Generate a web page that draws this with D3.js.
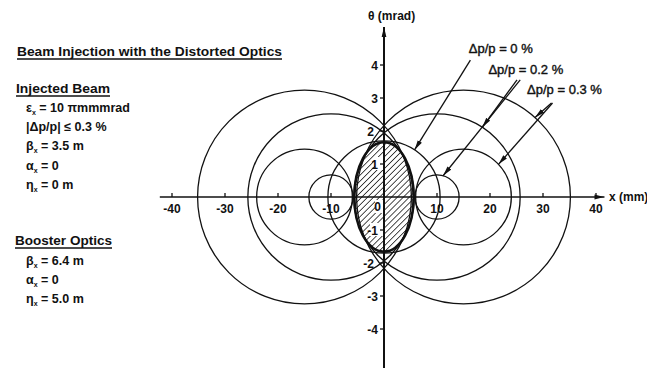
<!DOCTYPE html>
<html>
<head>
<meta charset="utf-8">
<script src="https://cdn.jsdelivr.net/npm/d3@7"></script>
<style>
  body { margin: 0; background: #fff; }
  svg { display: block; font-family: "Liberation Sans", Arial, sans-serif; }
</style>
</head>
<body>
<svg id="chart" width="647" height="368"></svg>
<script>
'use strict';

// ticks
const xTicks = [-40, -30, -20, -10, 10, 20, 30, 40];
const yTicks = [-4, -3, -2, -1, 1, 2, 3, 4];

// booster acceptance circles: centre (mm) and theta amplitude (mrad)
const circleCenter = [0, -10, 10, -10, 10, -15, 15, -15, 15];
const circleAmp = [1.70, 0.67, 0.67, 2.52, 2.52, 1.45, 1.45, 3.24, 3.24];

// injected beam ellipse half axes
const injHalfX = 5.6;      // mm
const injHalfTheta = 1.66; // mrad

// leader labels and arrows
const dpLabels = ["Δp/p = 0 %", "Δp/p = 0.2 %", "Δp/p = 0.3 %"];
const dpLabelX = [16.0, 19.7, 27.0];
const dpLabelY = [4.35, 3.73, 3.12];
// each arrow: start (mm, mrad), target circle index, angle on circle (deg)
const arrowStartX = [16.3, 25.1, 25.7, 31.6, 31.8];
const arrowStartY = [4.15, 3.55, 3.55, 2.85, 2.85];
const arrowCircle = [0, 4, 2, 8, 6];
const arrowAngle = [57, 57, 74, 48, 43];

const injectedLines = [
  ["ε", "x", " = 10 πmmmrad"],
  ["|Δp/p| ≤ 0.3 %", "", ""],
  ["β", "x", " = 3.5 m"],
  ["α", "x", " = 0"],
  ["η", "x", " = 0 m"]
];
const boosterLines = [
  ["β", "x", " = 6.4 m"],
  ["α", "x", " = 0"],
  ["η", "x", " = 5.0 m"]
];

const svg = d3.select("#chart");
const x = d3.scaleLinear().domain([-40, 40]).range([172, 596]);
const y = d3.scaleLinear().domain([-4, 4]).range([329, 65]);
const rPx = a => y(0) - y(a);

// defs: hatch + arrowheads
const defs = svg.append("defs");
const hatch = defs.append("pattern")
  .attr("id", "hatch")
  .attr("patternUnits", "userSpaceOnUse")
  .attr("width", 4.2).attr("height", 4.2)
  .attr("patternTransform", "rotate(45)");
hatch.append("line")
  .attr("x1", 0).attr("y1", 0).attr("x2", 0).attr("y2", 4.2)
  .attr("stroke", "#111").attr("stroke-width", 1.5);

defs.append("marker")
  .attr("id", "arrow")
  .attr("markerUnits", "userSpaceOnUse")
  .attr("viewBox", "0 -3 10 6")
  .attr("refX", 10).attr("refY", 0)
  .attr("markerWidth", 10).attr("markerHeight", 6)
  .attr("orient", "auto")
  .append("path")
  .attr("d", "M0,-2.4L10,0L0,2.4Z")
  .attr("fill", "#111");

// injected beam (hatched)
svg.append("ellipse")
  .attr("cx", x(0)).attr("cy", y(0))
  .attr("rx", x(injHalfX) - x(0))
  .attr("ry", y(0) - y(injHalfTheta))
  .attr("fill", "url(#hatch)");

// white boxes behind the labels sitting in the hatch
const inner = [1, 0, -1];
svg.selectAll("rect.lblbg")
  .data(inner)
  .join("rect")
  .attr("class", "lblbg")
  .attr("x", d => d < 0 ? x(0) - 14 : x(0) - 9)
  .attr("y", d => y(d) - (d === 0 ? -3 : 7))
  .attr("width", d => d < 0 ? 13 : 8)
  .attr("height", 13)
  .attr("fill", "#fff");

svg.append("ellipse")
  .attr("cx", x(0)).attr("cy", y(0))
  .attr("rx", x(injHalfX) - x(0))
  .attr("ry", y(0) - y(injHalfTheta))
  .attr("fill", "none")
  .attr("stroke", "#111")
  .attr("stroke-width", 2.6);

// acceptance circles
svg.selectAll("circle.acc")
  .data(circleCenter)
  .join("circle")
  .attr("class", "acc")
  .attr("cx", d => x(d))
  .attr("cy", y(0))
  .attr("r", (d, i) => rPx(circleAmp[i]))
  .attr("fill", "none")
  .attr("stroke", "#111")
  .attr("stroke-width", 1.3);

// axes
const axisG = svg.append("g").attr("stroke", "#111");
axisG.append("line")
  .attr("x1", x(-42.3)).attr("x2", x(41.6))
  .attr("y1", y(0)).attr("y2", y(0))
  .attr("stroke-width", 1.5)
  .attr("marker-end", "url(#arrow)");
axisG.append("line")
  .attr("x1", x(0)).attr("x2", x(0))
  .attr("y1", y(-5.5)).attr("y2", y(5.15))
  .attr("stroke-width", 2)
  .attr("marker-end", "url(#arrow)");

axisG.selectAll("line.xt")
  .data(xTicks)
  .join("line")
  .attr("class", "xt")
  .attr("x1", d => x(d)).attr("x2", d => x(d))
  .attr("y1", y(0)).attr("y2", y(0) - 4)
  .attr("stroke-width", 1.3);
axisG.selectAll("line.yt")
  .data(yTicks)
  .join("line")
  .attr("class", "yt")
  .attr("x1", x(0)).attr("x2", x(0) - 4)
  .attr("y1", d => y(d)).attr("y2", d => y(d))
  .attr("stroke-width", 1.3);

const tickFont = g => g.attr("font-size", 12).attr("font-weight", "bold").attr("fill", "#111");

svg.append("g").call(tickFont)
  .selectAll("text")
  .data(xTicks)
  .join("text")
  .attr("x", d => x(d))
  .attr("y", y(0) + 16)
  .attr("text-anchor", "middle")
  .text(d => d < 0 ? "-" + Math.abs(d) : d);

svg.append("g").call(tickFont)
  .selectAll("text")
  .data(yTicks)
  .join("text")
  .attr("x", d => x(0) - (Math.abs(d) === 2 ? 10 : 6))
  .attr("y", d => y(d) + 4.5)
  .attr("text-anchor", "end")
  .text(d => d < 0 ? "-" + Math.abs(d) : d);

svg.append("text").call(tickFont)
  .attr("x", x(0) - 3).attr("y", y(0) + 14)
  .attr("text-anchor", "end")
  .text("0");

svg.append("text").call(tickFont)
  .attr("x", 368).attr("y", 20)
  .text("θ (mrad)");
svg.append("text").call(tickFont)
  .attr("x", 609).attr("y", y(0) + 4)
  .text("x (mm)");

// Δp/p labels and leaders
svg.append("g")
  .attr("font-size", 13)
  .attr("fill", "#111")
  .attr("stroke", "#111")
  .attr("stroke-width", 0.4)
  .selectAll("text")
  .data(dpLabels)
  .join("text")
  .attr("x", (d, i) => x(dpLabelX[i]))
  .attr("y", (d, i) => y(dpLabelY[i]))
  .text(d => d);

svg.append("g")
  .selectAll("line")
  .data(arrowStartX)
  .join("line")
  .attr("x1", d => x(d))
  .attr("y1", (d, i) => y(arrowStartY[i]))
  .attr("x2", (d, i) => {
    const c = arrowCircle[i];
    return x(circleCenter[c]) + rPx(circleAmp[c]) * Math.cos(arrowAngle[i] * Math.PI / 180);
  })
  .attr("y2", (d, i) => {
    const c = arrowCircle[i];
    return y(0) - rPx(circleAmp[c]) * Math.sin(arrowAngle[i] * Math.PI / 180);
  })
  .attr("stroke", "#111")
  .attr("stroke-width", 1.3)
  .attr("marker-end", "url(#arrow)");

// left side text block
const left = svg.append("g").attr("font-weight", "bold").attr("fill", "#111");

function heading(txt, tx, ty, w) {
  left.append("text")
    .attr("x", tx).attr("y", ty)
    .attr("font-size", 12.5)
    .attr("textLength", w)
    .attr("lengthAdjust", "spacingAndGlyphs")
    .text(txt);
  left.append("line")
    .attr("x1", tx).attr("x2", tx + w)
    .attr("y1", ty + 3).attr("y2", ty + 3)
    .attr("stroke", "#111").attr("stroke-width", 1.4);
}

function block(lines, tx, ty0, dy) {
  lines.forEach((l, i) => {
    const t = left.append("text")
      .attr("x", tx).attr("y", ty0 + i * dy)
      .attr("font-size", 12.5);
    t.append("tspan").text(l[0]);
    if (l[1]) {
      t.append("tspan").attr("font-size", 7).attr("dy", 3).text(l[1]);
      t.append("tspan").attr("dy", -3).text(l[2]);
    }
  });
}

heading("Beam Injection with the Distorted Optics", 17, 56, 265);
heading("Injected Beam", 16, 93, 94);
block(injectedLines, 26, 112, 19.2);
heading("Booster Optics", 15, 245, 97);
block(boosterLines, 26, 265, 19);
</script>
</body>
</html>
